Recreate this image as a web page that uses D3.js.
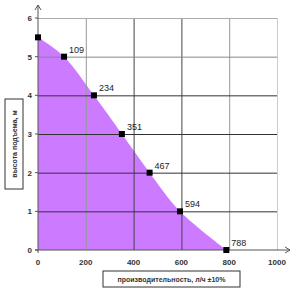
<!DOCTYPE html>
<html><head><meta charset="utf-8">
<script src="https://cdn.jsdelivr.net/npm/d3@7"></script>
<style>body{margin:0;background:#fff}svg{display:block}</style>
</head><body>
<svg id="c" width="292" height="288"></svg>
<script>
const flow = [0, 109, 234, 351, 467, 594, 788];
const head = [5.5, 5, 4, 3, 2, 1, 0];
const pointLabels = ["", "109", "234", "351", "467", "594", "788"];
const xTicks = [0, 200, 400, 600, 800, 1000];
const yTicks = [0, 1, 2, 3, 4, 5, 6];
const xTitle = "производительность, л/ч ±10%";
const yTitle = "высота подъема, м";

const svg = d3.select("#c");
const x = d3.scaleLinear().domain([0, 1000]).range([38, 277]);
const y = d3.scaleLinear().domain([0, 6]).range([250, 18]);
const data = flow.map((f, i) => ({f, h: head[i], l: pointLabels[i]}));

// fill area
const area = d3.area().x(d => x(d.f)).y0(y(0)).y1(d => y(d.h)).curve(d3.curveCatmullRom.alpha(0.5));
svg.append("path").datum(data).attr("d", area).attr("fill", "#cc7aff");

// grid
const gx = d3.axisBottom(x).tickValues(xTicks.slice(1)).tickSize(-(y(0) - y(6))).tickFormat("");
svg.append("g").attr("transform", `translate(0,${y(0)})`).call(gx)
  .call(g => g.select(".domain").remove())
  .selectAll("line").attr("stroke", (d) => d === 400 || d === 600 ? "#444" : (d === 1000 ? "#ccc" : "#999")).attr("stroke-width", 1);
const gy = d3.axisLeft(y).tickValues(yTicks.slice(1)).tickSize(-(x(1000) - x(0))).tickFormat("");
svg.append("g").attr("transform", `translate(${x(0)},0)`).call(gy)
  .call(g => g.select(".domain").remove())
  .selectAll("line").attr("stroke", d => d === 6 ? "#aaa" : (d === 5 ? "#888" : "#333")).attr("stroke-width", 1);

// axes with arrows
const ax = svg.append("g").attr("stroke", "#555").attr("fill", "none").attr("stroke-width", 1);
ax.append("line").attr("x1", x(0)).attr("x2", x(0)).attr("y1", y(0) + 3).attr("y2", 5);
ax.append("path").attr("d", `M${x(0)-3},${10} L${x(0)},${5} L${x(0)+3},${10}`);
ax.append("line").attr("x1", x(0) - 3).attr("x2", 290).attr("y1", y(0)).attr("y2", y(0));
ax.append("path").attr("d", `M${285},${y(0)-3} L${290},${y(0)} L${285},${y(0)+3}`);
yTicks.forEach(t => ax.append("line").attr("x1", x(0) - 3).attr("x2", x(0)).attr("y1", y(t)).attr("y2", y(t)));

// tick labels
const tl = svg.append("g").attr("font-family", "Liberation Sans, Arial, sans-serif").attr("font-size", 8).attr("font-weight", "bold").attr("fill", "#333");
tl.selectAll(".yl").data(yTicks).join("text").attr("x", 32).attr("y", d => y(d) + 3).attr("text-anchor", "end").text(d => d);
tl.selectAll(".xl").data(xTicks).join("text").attr("x", d => x(d)).attr("y", 265).attr("text-anchor", "middle").text(d => d);

// points
svg.selectAll(".pt").data(data).join("rect")
  .attr("x", d => x(d.f) - 3).attr("y", d => y(d.h) - 3).attr("width", 6).attr("height", 6).attr("fill", "#000");
svg.selectAll(".pl").data(data.filter(d => d.l)).join("text")
  .attr("x", d => x(d.f) + 5).attr("y", d => y(d.h) - 4)
  .attr("font-family", "Liberation Sans, Arial, sans-serif").attr("font-size", 9).attr("fill", "#222").text(d => d.l);

// titles in boxes
svg.append("rect").attr("x", 5).attr("y", 99).attr("width", 18).attr("height", 90).attr("fill", "#fff").attr("stroke", "#333");
svg.append("text").attr("transform", "translate(17,144) rotate(-90)").attr("text-anchor", "middle")
  .attr("font-family", "Liberation Sans, Arial, sans-serif").attr("font-size", 7).attr("font-weight", "bold").attr("fill", "#333").text(yTitle);
svg.append("rect").attr("x", 103).attr("y", 271).attr("width", 137).attr("height", 16).attr("fill", "#fff").attr("stroke", "#333");
svg.append("text").attr("x", 171.5).attr("y", 282).attr("text-anchor", "middle")
  .attr("font-family", "Liberation Sans, Arial, sans-serif").attr("font-size", 7).attr("font-weight", "bold").attr("fill", "#333").text(xTitle);
</script>
</body></html>
